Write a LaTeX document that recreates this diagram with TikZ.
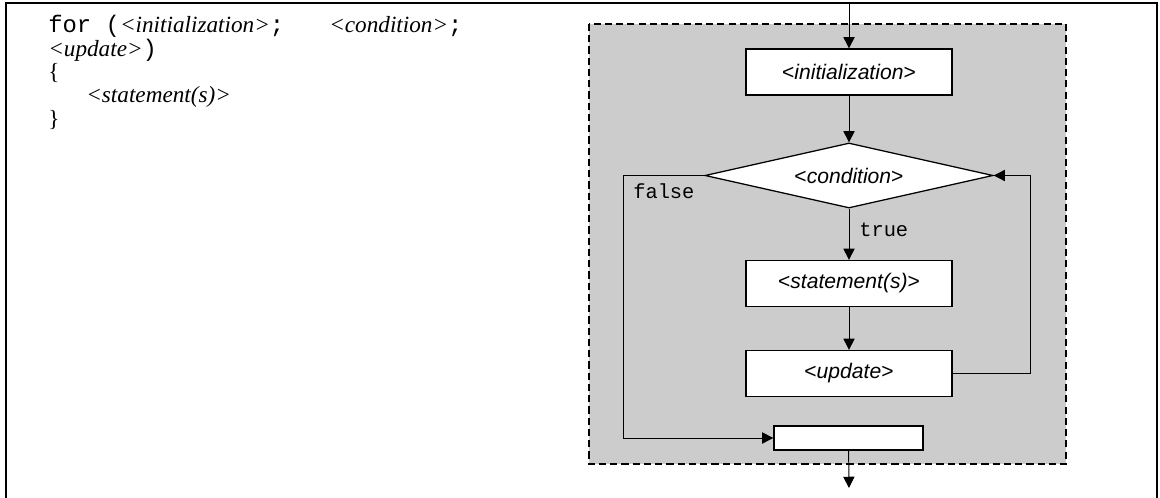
\documentclass[tikz,border=0pt]{standalone}
\usepackage{fontspec}
\setmainfont{Liberation Serif}
\setsansfont{Liberation Sans}
\setmonofont{Liberation Mono}
\usepackage{tikz}
\usetikzlibrary{shapes.geometric}
\usetikzlibrary{arrows.meta}

\definecolor{panelgray}{HTML}{CCCCCC}

\tikzset{
  block/.style={draw, line width=0.9pt, fill=white, minimum width=5.15cm, minimum height=1.15cm, inner sep=0pt, font=\sffamily\fontsize{15}{17}\selectfont},
  endbox/.style={draw, line width=0.9pt, fill=white, minimum width=3.725cm, minimum height=0.6cm, inner sep=0pt},
  decision/.style={diamond, draw, line width=0.9pt, fill=white, aspect=4.4, minimum width=7.2cm, minimum height=1.625cm, inner sep=0pt, font=\sffamily\fontsize{15}{17}\selectfont},
  flow/.style={line width=0.7pt, -{Triangle[length=8pt,width=8pt]}},
  codeline/.style={anchor=base west, inner sep=0pt, font=\fontsize{16.5}{19}\selectfont},
  flowlabel/.style={anchor=base west, inner sep=0pt, font=\ttfamily\fontsize{14.5}{17}\selectfont},
}
\newcommand{\codett}[1]{{\ttfamily\fontsize{17}{19}\selectfont #1}}

\begin{document}
\begin{tikzpicture}[x=0.025cm, y=-0.025cm]
  \useasboundingbox (0,0) rectangle (1160,498);

  % 外框（底边开口）
  \draw[line width=1.1pt] (6,498) -- (6,3) -- (1157,3) -- (1157,498);

  % 灰色虚线区域
  \draw[fill=panelgray, line width=0.9pt, dash pattern=on 5pt off 3pt] (589,24) rectangle (1066,464);

  % 代码
  \node[codeline] (code1) at (48,33) {\codett{for (}\textit{<initialization>}\codett{;}\hspace{32pt}\textit{<condition>}\codett{;}};
  \node[codeline] (code2) at (48,57) {\textit{<update>}\codett{)}};
  \node[codeline] (code3) at (48,80) {\{};
  \node[codeline] (code4) at (86,103) {\textit{<statement(s)>}};
  \node[codeline] (code5) at (48,127) {\}};

  % 流程图
  \coordinate (entry) at (849,3);
  \coordinate (exit) at (849,488);
  \node[block] (init) at (849,72) {<\textit{initialization}>};
  \node[decision] (cond) at (849,175.5) {<\textit{condition}>};
  \node[block] (stmt) at (849,283.5) {<\textit{statement(s)}>};
  \node[block] (upd) at (849,373.5) {<\textit{update}>};
  \node[endbox] (done) at (848.5,438) {};

  % 标签
  \node[flowlabel] (falselbl) at (633,199) {false};
  \node[flowlabel] (truelbl) at (859,237) {true};

  % 连线
  \draw[flow] (entry) -- (init);
  \draw[flow] (init) -- (cond);
  \draw[flow] (cond) -- (stmt);
  \draw[flow] (stmt) -- (upd);
  \draw[flow] (upd.east) -- (1030,373.5) |- (cond.east);
  \draw[flow] (cond.west) -- (623,175.5) |- (done.west);
  \draw[flow] (done) -- (exit);
\end{tikzpicture}
\end{document}
